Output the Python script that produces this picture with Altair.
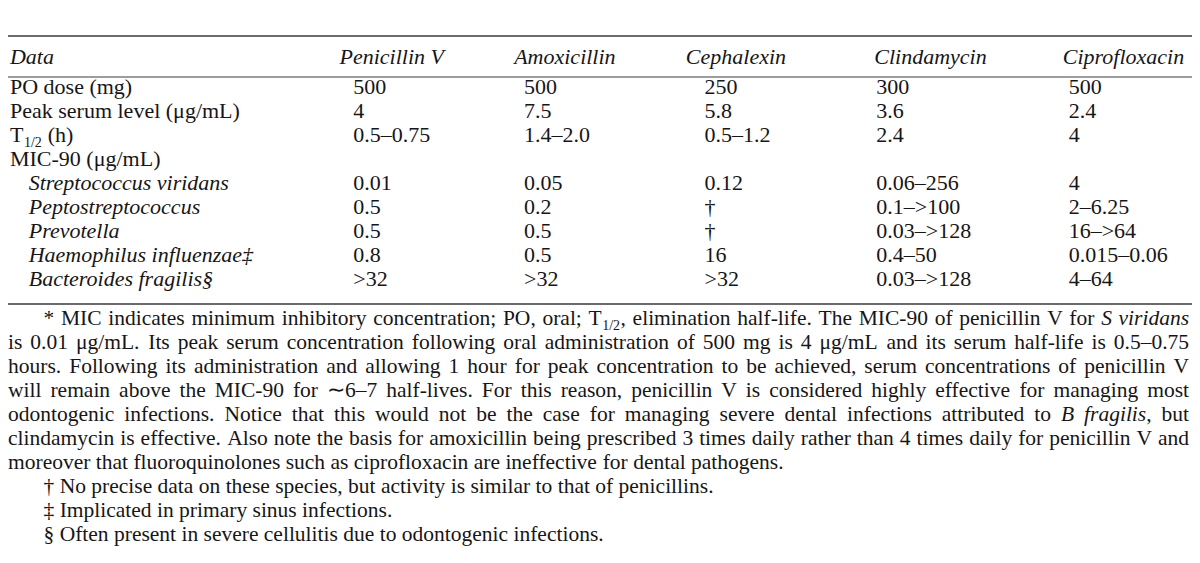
import altair as alt
import pandas as pd

# ---------------- data ----------------
header_first = "Data"
drugs = ["Penicillin V", "Amoxicillin", "Cephalexin", "Clindamycin", "Ciprofloxacin"]
row_labels = ["PO dose (mg)", "Peak serum level (μg/mL)", "T|1/2| (h)", "MIC-90 (μg/mL)",
              "Streptococcus viridans", "Peptostreptococcus", "Prevotella",
              "Haemophilus influenzae‡", "Bacteroides fragilis§"]
row_italic = [False, False, False, False, True, True, True, True, True]
penicillin = ["500", "4", "0.5–0.75", "", "0.01", "0.5", "0.5", "0.8", ">32"]
amoxicillin = ["500", "7.5", "1.4–2.0", "", "0.05", "0.2", "0.5", "0.5", ">32"]
cephalexin = ["250", "5.8", "0.5–1.2", "", "0.12", "†", "†", "16", ">32"]
clindamycin = ["300", "3.6", "2.4", "", "0.06–256", "0.1–>100", "0.03–>128", "0.4–50", "0.03–>128"]
ciprofloxacin = ["500", "2.4", "4", "", "4", "2–6.25", "16–>64", "0.015–0.06", "4–64"]
values = [penicillin, amoxicillin, cephalexin, clindamycin, ciprofloxacin]

# footnote lines: {i}..{/i} = italic, |..| = subscript
foot_lines = [
    "* MIC indicates minimum inhibitory concentration; PO, oral; T|1/2|, elimination half-life. The MIC-90 of penicillin V for {i}S viridans{/i}",
    "is 0.01 μg/mL. Its peak serum concentration following oral administration of 500 mg is 4 μg/mL and its serum half-life is 0.5–0.75",
    "hours. Following its administration and allowing 1 hour for peak concentration to be achieved, serum concentrations of penicillin V",
    "will remain above the MIC-90 for ∼6–7 half-lives. For this reason, penicillin V is considered highly effective for managing most",
    "odontogenic infections. Notice that this would not be the case for managing severe dental infections attributed to {i}B fragilis{/i}, but",
    "clindamycin is effective. Also note the basis for amoxicillin being prescribed 3 times daily rather than 4 times daily for penicillin V and",
    "moreover that fluoroquinolones such as ciprofloxacin are ineffective for dental pathogens.",
    "† No precise data on these species, but activity is similar to that of penicillins.",
    "‡ Implicated in primary sinus infections.",
    "§ Often present in severe cellulitis due to odontogenic infections.",
]
foot_justified = [True, True, True, True, True, True, False, False, False, False]
foot_indented = [True, False, False, False, False, False, False, True, True, True]

# ---------------- layout (reference pixel coordinates) ----------------
W, H = 1184, 555
KX = W / 1200.0                      # reference px -> page px
header_x = [336, 513, 687, 878, 1069]
value_x = [350, 523, 706, 880, 1075]
label_x, species_x = 2, 21
header_y = 64
row_y0, row_step = 94, 24
foot_y0, foot_step = 325, 24
foot_indent, foot_right = 36, 1197
rules_y = [36, 77, 304]
rules_w = [1.4, 1.0, 1.4]
TS, FS, SS = 22, 21.5, 14            # table / footnote / subscript font sizes

# Times (Liberation Serif) advance widths, per 1000 em
_N = {' ': 250, '!': 333, '(': 333, ')': 333, '*': 500, ',': 250, '-': 333, '.': 250,
      '/': 278, ':': 278, ';': 278, '<': 564, '>': 564, '?': 444, '–': 500, 'μ': 576,
      '∼': 840, '†': 500, '‡': 500, '§': 500}
_N.update({d: 500 for d in "0123456789"})
_N.update(dict(zip("ABCDEFGHIJKLMNOPQRSTUVWXYZ",
                   [722, 667, 667, 722, 611, 556, 722, 722, 333, 389, 722, 611, 889, 722, 722,
                    556, 722, 667, 556, 611, 722, 722, 944, 722, 722, 611])))
_N.update(dict(zip("abcdefghijklmnopqrstuvwxyz",
                   [444, 500, 444, 500, 444, 333, 500, 500, 278, 278, 500, 278, 778, 500, 500,
                    500, 500, 333, 389, 278, 500, 500, 722, 500, 500, 444])))
_I = dict(_N)
_I.update(dict(zip("abcdefghijklmnopqrstuvwxyz",
                   [500, 500, 444, 500, 444, 278, 500, 500, 278, 278, 444, 278, 722, 500, 500,
                    500, 500, 389, 389, 278, 500, 444, 667, 444, 444, 389])))
_I.update({'B': 611, 'S': 500})


def text_w(s, style, size):
    tab = _I if style == "i" else _N
    return sum(tab.get(c, 500) for c in s) * size / 1000.0 / KX   # in reference units


def parse_words(line):
    """Split a marked-up line into words, each a list of (text, style) pieces."""
    words, cur, style, buf = [], [], "n", ""
    i = 0
    def flush():
        nonlocal buf
        if buf:
            cur.append((buf, style))
            buf = ""
    while i < len(line):
        if line.startswith("{i}", i):
            flush(); style = "i"; i += 3; continue
        if line.startswith("{/i}", i):
            flush(); style = "n"; i += 4; continue
        c = line[i]
        if c == "|":
            flush(); style = "s" if style != "s" else "n"; i += 1; continue
        if c == " ":
            flush()
            if cur:
                words.append(cur); cur = []
            i += 1; continue
        buf += c; i += 1
    flush()
    if cur:
        words.append(cur)
    return words


def piece_w(t, st, size):
    return text_w(t, "n", SS) + 1 if st == "s" else text_w(t, st, size)


rows = []


def emit_line(line, x0, y, size, x1=None):
    words = parse_words(line)
    ww = [sum(piece_w(t, st, size) for t, st in w) for w in words]
    gap = text_w(" ", "n", size)
    if x1 is not None and len(words) > 1:
        gap = (x1 - x0 - sum(ww)) / (len(words) - 1)
    x = x0
    for w, wlen in zip(words, ww):
        px = x
        for t, st in w:
            if st == "s":
                rows.append(dict(x=px + 0.5, y=y + 5, t=t, st="n", s=SS))
            else:
                rows.append(dict(x=px, y=y, t=t, st=st, s=size))
            px += piece_w(t, st, size)
        x += wlen + gap


# header
rows.append(dict(x=label_x, y=header_y, t=header_first, st="i", s=TS))
for hx, d in zip(header_x, drugs):
    rows.append(dict(x=hx, y=header_y, t=d, st="i", s=TS))

# body
for i, (lab, it) in enumerate(zip(row_labels, row_italic)):
    y = row_y0 + i * row_step
    if it:
        rows.append(dict(x=species_x, y=y, t=lab, st="i", s=TS))
    else:
        emit_line(lab, label_x, y, TS)
    for vx, col in zip(value_x, values):
        if col[i]:
            rows.append(dict(x=vx, y=y, t=col[i], st="n", s=TS))

# footnotes
for k, (line, just, ind) in enumerate(zip(foot_lines, foot_justified, foot_indented)):
    y = foot_y0 + k * foot_step
    x0 = foot_indent if ind else 0
    emit_line(line, x0, y, FS, foot_right if just else None)

df = pd.DataFrame(rows)

xs = alt.Scale(domain=[0, 1200], range=[0, W], nice=False, zero=False)
ys = alt.Scale(domain=[8, 563], reverse=True, nice=False, zero=False)
FONT = "Liberation Serif"

layers = []
rules_df = pd.DataFrame({"y": rules_y, "x": [0] * 3, "x2": [1200] * 3, "w": rules_w})
layers.append(
    alt.Chart(rules_df).mark_rule(color="#3a3a3a").encode(
        x=alt.X("x:Q", scale=xs, axis=None),
        x2="x2:Q",
        y=alt.Y("y:Q", scale=ys, axis=None),
        strokeWidth=alt.StrokeWidth("w:Q", scale=None),
    )
)
for st, fstyle in [("n", "normal"), ("i", "italic")]:
    sub = df[df["st"] == st]
    layers.append(
        alt.Chart(sub).mark_text(
            align="left", baseline="alphabetic", font=FONT, fontStyle=fstyle, color="#161616"
        ).encode(
            x=alt.X("x:Q", scale=xs, axis=None),
            y=alt.Y("y:Q", scale=ys, axis=None),
            text="t:N",
            size=alt.Size("s:Q", scale=None),
        )
    )

chart = alt.layer(*layers).properties(
    width=W, height=H, padding=0,
    autosize=alt.AutoSizeParams(type="none"),
).configure_view(stroke=None)

chart.save("out.html", embed_options={"renderer": "svg", "actions": False})
